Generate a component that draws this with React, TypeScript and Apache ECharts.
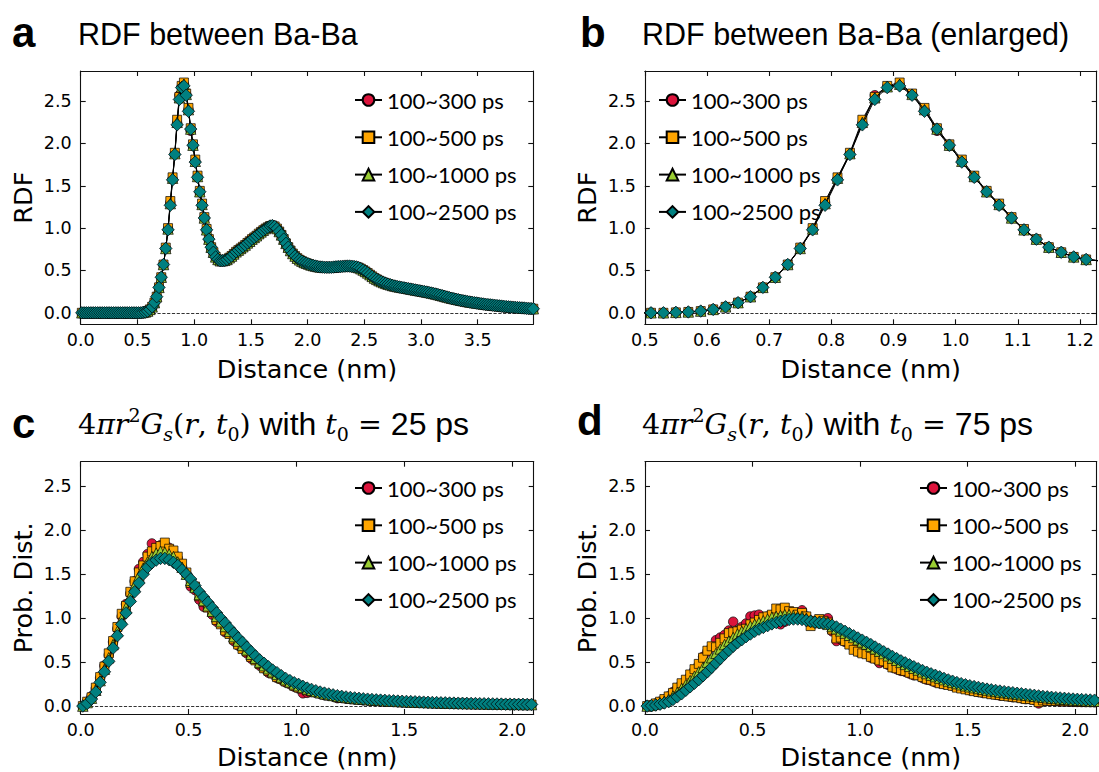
import React, { useEffect, useRef } from "react";
import * as echarts from "echarts";

// ---------- data ----------
const seriesNames = ["100~300 ps", "100~500 ps", "100~1000 ps", "100~2500 ps"];

// RDF bin centres 0.01 ... 3.99 nm (step 0.02)
const rdfX: number[] = Array.from({ length: 200 }, (_, i) => +(0.01 + 0.02 * i).toFixed(2));

// 0.01 - 0.49
const rdfFlat = [0, 0, 0, 0, 0, 0, 0, 0, 0, 0, 0, 0, 0, 0, 0, 0, 0, 0, 0, 0, 0, 0, 0, 0, 0];
// 0.51 - 0.73
const rdfRise = [0.0, 0.0, 0.005, 0.01, 0.02, 0.04, 0.07, 0.12, 0.19, 0.3, 0.42, 0.57];
// 0.75 - 1.11 (first peak, per series)
const rdfPeak300 = [0.76, 0.99, 1.3, 1.58, 1.88, 2.24, 2.57, 2.67, 2.7, 2.58, 2.4, 2.15, 1.97, 1.79, 1.6, 1.43, 1.27, 1.12, 0.98];
const rdfPeak500 = [0.77, 1.0, 1.32, 1.6, 1.89, 2.28, 2.55, 2.68, 2.72, 2.59, 2.42, 2.18, 1.99, 1.81, 1.62, 1.44, 1.29, 1.13, 0.99];
const rdfPeak1000 = [0.76, 0.99, 1.29, 1.59, 1.88, 2.25, 2.54, 2.67, 2.7, 2.58, 2.4, 2.17, 1.98, 1.79, 1.61, 1.43, 1.28, 1.12, 0.98];
const rdfPeak2500 = [0.76, 0.98, 1.27, 1.57, 1.87, 2.22, 2.52, 2.66, 2.68, 2.57, 2.38, 2.17, 1.98, 1.78, 1.6, 1.43, 1.27, 1.12, 0.98];
// 1.13 - 3.99
const rdfTail = [
  0.87, 0.775, 0.715, 0.66, 0.63, 0.615, 0.615, 0.62, 0.63, 0.65,
  0.67, 0.695, 0.72, 0.74, 0.76, 0.78, 0.8, 0.825, 0.845, 0.87,
  0.89, 0.91, 0.935, 0.955, 0.975, 0.995, 1.01, 1.025, 1.03, 1.02,
  0.995, 0.96, 0.92, 0.87, 0.82, 0.775, 0.735, 0.7, 0.67, 0.645,
  0.625, 0.61, 0.595, 0.585, 0.575, 0.565, 0.558, 0.552, 0.546, 0.542,
  0.54, 0.538, 0.537, 0.537, 0.538, 0.54, 0.543, 0.546, 0.548, 0.55,
  0.551, 0.552, 0.552, 0.55, 0.547, 0.542, 0.533, 0.52, 0.505, 0.488,
  0.47, 0.45, 0.43, 0.41, 0.395, 0.38, 0.368, 0.357, 0.347, 0.338,
  0.33, 0.322, 0.316, 0.31, 0.305, 0.3, 0.295, 0.29, 0.285, 0.28,
  0.275, 0.27, 0.265, 0.26, 0.255, 0.25, 0.245, 0.24, 0.234, 0.228,
  0.222, 0.215, 0.208, 0.2, 0.193, 0.186, 0.179, 0.172, 0.166, 0.16,
  0.154, 0.148, 0.143, 0.138, 0.133, 0.128, 0.124, 0.12, 0.116, 0.112,
  0.108, 0.104, 0.1, 0.097, 0.094, 0.091, 0.088, 0.085, 0.082, 0.079,
  0.076, 0.073, 0.07, 0.068, 0.066, 0.064, 0.062, 0.06, 0.058, 0.056,
  0.054, 0.052, 0.05, 0.048,
];
const rdf300 = [...rdfFlat, ...rdfRise, ...rdfPeak300, ...rdfTail];
const rdf500 = [...rdfFlat, ...rdfRise, ...rdfPeak500, ...rdfTail];
const rdf1000 = [...rdfFlat, ...rdfRise, ...rdfPeak1000, ...rdfTail];
const rdf2500 = [...rdfFlat, ...rdfRise, ...rdfPeak2500, ...rdfTail];

// Gs bin centres 0.01 ... 2.09 nm (step 0.02)
const gsX: number[] = Array.from({ length: 105 }, (_, i) => +(0.01 + 0.02 * i).toFixed(2));

// panel c : t0 = 25 ps
const c300 = [
  0.0, 0.05, 0.11, 0.2, 0.32, 0.46, 0.58, 0.73, 0.88, 1.02,
  1.16, 1.28, 1.42, 1.56, 1.64, 1.73, 1.85, 1.77, 1.83, 1.84,
  1.8, 1.74, 1.68, 1.58, 1.5, 1.36, 1.32, 1.21, 1.13, 1.13,
  1.04, 0.96, 0.95, 0.84, 0.83, 0.74, 0.69, 0.66, 0.6, 0.54,
  0.53, 0.46, 0.43, 0.38, 0.37, 0.32, 0.3, 0.27, 0.25, 0.22,
  0.2, 0.145, 0.15, 0.16, 0.15, 0.14, 0.125, 0.12, 0.11, 0.09,
  0.095, 0.085, 0.08, 0.076, 0.072, 0.065, 0.066, 0.06, 0.058, 0.055,
  0.052, 0.05, 0.048, 0.046, 0.044, 0.042, 0.042, 0.039, 0.038, 0.037,
  0.035, 0.034, 0.033, 0.031, 0.03, 0.03, 0.029, 0.027, 0.027, 0.026,
  0.025, 0.024, 0.024, 0.023, 0.022, 0.021, 0.021, 0.02, 0.02, 0.019,
  0.018, 0.018, 0.017, 0.017, 0.016,
];
const c500 = [
  0.0, 0.05, 0.1, 0.21, 0.33, 0.45, 0.6, 0.74, 0.9, 1.05,
  1.14, 1.3, 1.42, 1.52, 1.6, 1.7, 1.76, 1.8, 1.82, 1.86,
  1.79, 1.77, 1.7, 1.62, 1.52, 1.4, 1.36, 1.25, 1.19, 1.12,
  1.07, 0.98, 0.93, 0.86, 0.82, 0.76, 0.7, 0.65, 0.62, 0.56,
  0.52, 0.48, 0.43, 0.4, 0.37, 0.33, 0.31, 0.28, 0.26, 0.23,
  0.21, 0.2, 0.18, 0.165, 0.16, 0.145, 0.13, 0.12, 0.115, 0.1,
  0.095, 0.09, 0.085, 0.078, 0.075, 0.07, 0.068, 0.062, 0.06, 0.058,
  0.055, 0.052, 0.05, 0.048, 0.046, 0.044, 0.043, 0.04, 0.04, 0.038,
  0.036, 0.035, 0.034, 0.032, 0.031, 0.03, 0.03, 0.028, 0.028, 0.027,
  0.026, 0.025, 0.024, 0.024, 0.023, 0.022, 0.021, 0.021, 0.02, 0.02,
  0.019, 0.018, 0.018, 0.017, 0.017,
];
const c1000 = [
  0.0, 0.04, 0.09, 0.18, 0.29, 0.42, 0.55, 0.7, 0.85, 0.99,
  1.12, 1.25, 1.37, 1.48, 1.57, 1.64, 1.7, 1.74, 1.76, 1.75,
  1.73, 1.7, 1.64, 1.58, 1.5, 1.43, 1.35, 1.27, 1.2, 1.14,
  1.08, 1.02, 0.96, 0.905, 0.85, 0.79, 0.74, 0.69, 0.64, 0.59,
  0.545, 0.5, 0.46, 0.425, 0.39, 0.36, 0.33, 0.3, 0.275, 0.252,
  0.232, 0.212, 0.195, 0.18, 0.166, 0.153, 0.141, 0.131, 0.121, 0.113,
  0.105, 0.098, 0.092, 0.087, 0.082, 0.078, 0.074, 0.07, 0.067, 0.064,
  0.061, 0.058, 0.056, 0.053, 0.051, 0.049, 0.047, 0.045, 0.043, 0.042,
  0.04, 0.038, 0.037, 0.036, 0.034, 0.033, 0.032, 0.031, 0.03, 0.029,
  0.028, 0.027, 0.026, 0.025, 0.024, 0.023, 0.022, 0.022, 0.021, 0.02,
  0.02, 0.019, 0.018, 0.018, 0.017,
];
const c2500 = [
  0.0, 0.03, 0.08, 0.16, 0.27, 0.39, 0.51, 0.66, 0.8, 0.93,
  1.06, 1.19, 1.3, 1.4, 1.5, 1.58, 1.63, 1.66, 1.68, 1.68,
  1.665, 1.635, 1.6, 1.55, 1.5, 1.445, 1.37, 1.3, 1.24, 1.18,
  1.12, 1.06, 1.0, 0.945, 0.885, 0.83, 0.775, 0.725, 0.67, 0.62,
  0.57, 0.525, 0.487, 0.448, 0.41, 0.38, 0.346, 0.315, 0.29, 0.266,
  0.247, 0.225, 0.205, 0.19, 0.175, 0.16, 0.148, 0.138, 0.128, 0.119,
  0.111, 0.104, 0.098, 0.093, 0.088, 0.083, 0.079, 0.075, 0.071, 0.068,
  0.065, 0.062, 0.06, 0.057, 0.055, 0.053, 0.051, 0.049, 0.047, 0.045,
  0.043, 0.041, 0.04, 0.038, 0.037, 0.035, 0.034, 0.033, 0.032, 0.031,
  0.03, 0.029, 0.028, 0.027, 0.026, 0.025, 0.024, 0.023, 0.022, 0.022,
  0.021, 0.02, 0.02, 0.019, 0.019,
];

// panel d : t0 = 75 ps
const d300 = [
  0.0, 0.01, 0.03, 0.05, 0.07, 0.11, 0.16, 0.2, 0.25, 0.29,
  0.34, 0.41, 0.47, 0.56, 0.62, 0.67, 0.75, 0.78, 0.81, 0.86,
  0.96, 0.86, 0.9, 0.94, 1.02, 1.03, 1.04, 1.0, 1.02, 1.03,
  1.05, 0.93, 0.96, 1.05, 1.03, 1.05, 1.09, 1.02, 0.97, 0.95,
  0.97, 0.98, 1.0, 0.85, 0.74, 0.76, 0.73, 0.73, 0.66, 0.62,
  0.61, 0.6, 0.55, 0.54, 0.49, 0.5, 0.47, 0.44, 0.42, 0.4,
  0.39, 0.37, 0.35, 0.35, 0.32, 0.3, 0.29, 0.27, 0.26, 0.25,
  0.25, 0.23, 0.22, 0.21, 0.2, 0.18, 0.18, 0.16, 0.15, 0.15,
  0.14, 0.13, 0.12, 0.12, 0.11, 0.1, 0.1, 0.09, 0.08, 0.08,
  0.07, 0.03, 0.06, 0.06, 0.06, 0.055, 0.05, 0.052, 0.05, 0.048,
  0.047, 0.046, 0.045, 0.044, 0.043,
];
const d500 = [
  0.0, 0.01, 0.03, 0.05, 0.08, 0.11, 0.15, 0.21, 0.26, 0.3,
  0.36, 0.42, 0.48, 0.55, 0.63, 0.68, 0.67, 0.72, 0.77, 0.83,
  0.84, 0.85, 0.87, 0.88, 0.93, 0.95, 0.98, 1.01, 1.02, 1.04,
  1.11, 1.1, 1.12, 1.08, 1.07, 1.04, 1.06, 1.02, 0.91, 0.97,
  0.99, 0.97, 0.95, 0.87, 0.77, 0.78, 0.74, 0.7, 0.64, 0.62,
  0.6, 0.59, 0.56, 0.54, 0.52, 0.51, 0.48, 0.44, 0.43, 0.41,
  0.4, 0.38, 0.36, 0.35, 0.33, 0.31, 0.3, 0.28, 0.26, 0.25,
  0.24, 0.23, 0.21, 0.2, 0.19, 0.18, 0.17, 0.16, 0.155, 0.145,
  0.135, 0.13, 0.125, 0.115, 0.11, 0.105, 0.1, 0.09, 0.08, 0.08,
  0.07, 0.045, 0.065, 0.062, 0.06, 0.058, 0.06, 0.055, 0.055, 0.052,
  0.05, 0.05, 0.05, 0.048, 0.047,
];
const d1000 = [
  0.0, 0.008, 0.02, 0.035, 0.055, 0.08, 0.115, 0.155, 0.2, 0.245,
  0.29, 0.34, 0.39, 0.44, 0.5, 0.55, 0.6, 0.65, 0.7, 0.74,
  0.78, 0.82, 0.85, 0.88, 0.91, 0.93, 0.95, 0.97, 0.99, 1.01,
  1.02, 1.03, 1.04, 1.04, 1.03, 1.02, 1.02, 1.0, 0.97, 0.96,
  0.95, 0.945, 0.93, 0.905, 0.88, 0.855, 0.83, 0.805, 0.78, 0.755,
  0.73, 0.705, 0.68, 0.652, 0.625, 0.598, 0.572, 0.546, 0.521, 0.497,
  0.474, 0.452, 0.43, 0.41, 0.39, 0.37, 0.352, 0.335, 0.318, 0.301,
  0.285, 0.27, 0.256, 0.243, 0.231, 0.22, 0.21, 0.2, 0.191, 0.182,
  0.174, 0.167, 0.16, 0.154, 0.148, 0.142, 0.136, 0.13, 0.124, 0.118,
  0.112, 0.106, 0.1, 0.095, 0.09, 0.086, 0.082, 0.078, 0.074, 0.07,
  0.067, 0.064, 0.061, 0.059, 0.057,
];
const d2500 = [
  0.0, 0.005, 0.012, 0.022, 0.035, 0.05, 0.075, 0.105, 0.14, 0.18,
  0.22, 0.26, 0.3, 0.345, 0.39, 0.44, 0.49, 0.54, 0.59, 0.635,
  0.68, 0.72, 0.755, 0.79, 0.82, 0.85, 0.875, 0.895, 0.915, 0.935,
  0.95, 0.965, 0.977, 0.985, 0.99, 0.99, 0.985, 0.975, 0.965, 0.955,
  0.948, 0.945, 0.935, 0.92, 0.9, 0.875, 0.85, 0.825, 0.8, 0.775,
  0.75, 0.725, 0.7, 0.672, 0.645, 0.618, 0.592, 0.565, 0.54, 0.515,
  0.492, 0.47, 0.448, 0.426, 0.405, 0.385, 0.367, 0.35, 0.333, 0.315,
  0.298, 0.283, 0.268, 0.255, 0.243, 0.232, 0.222, 0.212, 0.202, 0.193,
  0.185, 0.178, 0.171, 0.164, 0.158, 0.152, 0.146, 0.14, 0.134, 0.128,
  0.122, 0.116, 0.11, 0.105, 0.1, 0.096, 0.092, 0.088, 0.084, 0.08,
  0.077, 0.074, 0.071, 0.069, 0.067,
];

// tick values
const rdfXTicks = [0, 0.5, 1, 1.5, 2, 2.5, 3, 3.5];
const enlargedXTicks = [0.5, 0.6, 0.7, 0.8, 0.9, 1.0, 1.1, 1.2];
const gsXTicks = [0, 0.5, 1, 1.5, 2];
const yTicks = [0, 0.5, 1, 1.5, 2, 2.5];

// ---------- styles ----------
const markerColors = ["#dc143c", "#ffa500", "#9acd32", "#008080"];
const markerShapes = ["circle", "rect", "triangle", "diamond"];
const markerSizes = [9.5, 9, 10.5, 12.5];

const panels = [
  { left: 80.7, top: 71, width: 452.6, height: 253.3, xMin: 0, xMax: 3.99, yMin: -0.136, yMax: 2.856,
    xTicks: rdfXTicks, yName: "RDF", xs: rdfX, ys: [rdf300, rdf500, rdf1000, rdf2500], lgLeft: 354, lgTop: 88, nameGap: 32 },
  { left: 644.8, top: 71, width: 451.9, height: 253.3, xMin: 0.5, xMax: 1.227, yMin: -0.136, yMax: 2.856,
    xTicks: enlargedXTicks, yName: "RDF", xs: rdfX, ys: [rdf300, rdf500, rdf1000, rdf2500], lgLeft: 658, lgTop: 88, nameGap: 32 },
  { left: 80.7, top: 461.7, width: 453, height: 252.3, xMin: 0, xMax: 2.1, yMin: -0.09, yMax: 2.78,
    xTicks: gsXTicks, yName: "Prob. Dist.", xs: gsX, ys: [c300, c500, c1000, c2500], lgLeft: 354, lgTop: 476, nameGap: 30 },
  { left: 645, top: 461.7, width: 451.7, height: 252.3, xMin: 0, xMax: 2.1, yMin: -0.09, yMax: 2.78,
    xTicks: gsXTicks, yName: "Prob. Dist.", xs: gsX, ys: [d300, d500, d1000, d2500], lgLeft: 919, lgTop: 476, nameGap: 30 },
];

const FRAME = { color: "#111", width: 1.1 };
const tickFont = { color: "#000", fontFamily: "DejaVu Sans", fontSize: 17.5 };
const nameFont = { color: "#000", fontFamily: "DejaVu Sans", fontSize: 25.5, lineHeight: 26 };

function buildOption() {
  const grid: any[] = [];
  const xAxis: any[] = [];
  const yAxis: any[] = [];
  const series: any[] = [];
  const legend: any[] = [];

  panels.forEach((p, gi) => {
    grid.push({ left: p.left, top: p.top, width: p.width, height: p.height, containLabel: false, outerBoundsMode: "none" });
    const fmt = (v: number) => v.toFixed(1);
    xAxis.push({
      type: "value", gridIndex: gi, min: p.xMin, max: p.xMax, position: "bottom",
      axisLine: { show: true, onZero: false, lineStyle: FRAME },
      axisTick: { show: true, inside: true, length: 5, customValues: p.xTicks, lineStyle: FRAME },
      axisLabel: { show: true, customValues: p.xTicks, formatter: fmt, margin: 7, ...tickFont },
      splitLine: { show: false },
      name: "Distance (nm)", nameLocation: "middle", nameGap: p.nameGap, nameTextStyle: nameFont,
    });
    xAxis.push({
      type: "value", gridIndex: gi, min: p.xMin, max: p.xMax, position: "top",
      axisLine: { show: true, onZero: false, lineStyle: FRAME },
      axisTick: { show: true, inside: true, length: 5, customValues: p.xTicks, lineStyle: FRAME },
      axisLabel: { show: false },
      splitLine: { show: false },
    });
    yAxis.push({
      type: "value", gridIndex: gi, min: p.yMin, max: p.yMax, position: "left",
      axisLine: { show: true, onZero: false, lineStyle: FRAME },
      axisTick: { show: true, inside: true, length: 5, customValues: yTicks, lineStyle: FRAME },
      axisLabel: { show: true, customValues: yTicks, formatter: fmt, margin: 9, ...tickFont },
      splitLine: { show: false },
      name: p.yName, nameLocation: "middle", nameGap: 45, nameTextStyle: nameFont,
    });
    yAxis.push({
      type: "value", gridIndex: gi, min: p.yMin, max: p.yMax, position: "right",
      axisLine: { show: true, onZero: false, lineStyle: FRAME },
      axisTick: { show: true, inside: true, length: 5, customValues: yTicks, lineStyle: FRAME },
      axisLabel: { show: false },
      splitLine: { show: false },
    });

    p.ys.forEach((ys, si) => {
      const s: any = {
        type: "line",
        name: seriesNames[si],
        xAxisIndex: gi * 2,
        yAxisIndex: gi * 2,
        data: p.xs.map((x, k) => [x, ys[k]]),
        symbol: markerShapes[si],
        symbolSize: markerSizes[si],
        showSymbol: true,
        itemStyle: { color: markerColors[si], borderColor: "#000", borderWidth: 0.7 },
        lineStyle: { color: "#000", width: 1 },
        emphasis: { disabled: true },
        clip: true,
        z: 3 + si,
      };
      if (si === 0) {
        s.markLine = {
          silent: true,
          symbol: ["none", "none"],
          label: { show: false },
          lineStyle: { type: "dashed", color: "#000", width: 0.8 },
          data: [{ yAxis: 0 }],
          z: 1,
        };
      }
      series.push(s);
    });

    legend.push({
      left: p.lgLeft, top: p.lgTop, orient: "vertical", padding: 0,
      itemWidth: 27, itemHeight: 14.5, itemGap: 13.3,
      selectedMode: false,
      data: seriesNames,
      textStyle: { color: "#000", fontFamily: "Lato", fontSize: 22, lineHeight: 24 },
    });
  });

  const letter = (t: string, x: number, y: number) => ({
    type: "text", x, y, silent: true,
    style: { text: t, fill: "#000", fontFamily: "Liberation Sans", fontWeight: "bold", fontSize: 42, align: "left", verticalAlign: "middle" },
  });
  const plainTitle = (t: string, x: number, y: number) => ({
    type: "text", x, y, silent: true,
    style: { text: t, fill: "#000", fontFamily: "Liberation Sans", fontSize: 30.5, align: "left", verticalAlign: "middle" },
  });
  const LH = 38;
  const mathRich = {
    n: { fontFamily: "DejaVu Serif", fontSize: 28.5, lineHeight: LH, fill: "#000" },
    m: { fontFamily: "DejaVu Serif", fontStyle: "italic", fontSize: 28.5, lineHeight: LH, fill: "#000" },
    sup: { fontFamily: "DejaVu Serif", fontSize: 19, lineHeight: 19, verticalAlign: "top", fill: "#000" },
    subi: { fontFamily: "DejaVu Serif", fontStyle: "italic", fontSize: 19, lineHeight: 19, verticalAlign: "bottom", fill: "#000" },
    sub: { fontFamily: "DejaVu Serif", fontSize: 19, lineHeight: 19, verticalAlign: "bottom", fill: "#000" },
    w: { fontFamily: "Liberation Sans", fontSize: 32, lineHeight: LH, fill: "#000" },
  };
  const mathTitle = (t0: string, x: number, y: number) => ({
    type: "text", x, y, silent: true,
    style: {
      text: `{n|4}{m|πr}{sup|2}{m|G}{subi|s}{n|(}{m|r}{n|, }{m|t}{sub|0}{n|)}{w| with }{m|t}{sub|0}{n| = }{w|${t0} ps}`,
      rich: mathRich, align: "left", verticalAlign: "middle",
    },
  });

  const graphic = [
    letter("a", 12, 32),
    plainTitle("RDF between Ba-Ba", 78, 34),
    letter("b", 580, 32),
    plainTitle("RDF between Ba-Ba (enlarged)", 642, 34),
    letter("c", 12, 423),
    mathTitle("25", 78, 424),
    letter("d", 577, 420),
    mathTitle("75", 642, 424),
  ];

  return {
    animation: false,
    backgroundColor: "#fff",
    grid, xAxis, yAxis, series, legend, graphic,
  };
}

export default function App() {
  const ref = useRef<HTMLDivElement>(null);
  useEffect(() => {
    const chart = echarts.init(ref.current!, null, { renderer: "svg" });
    chart.setOption(buildOption() as any);
    return () => chart.dispose();
  }, []);
  return (
    <div
      ref={ref}
      style={{ position: "absolute", left: 0, top: 0, width: 1099, height: 772, background: "#fff" }}
    />
  );
}
